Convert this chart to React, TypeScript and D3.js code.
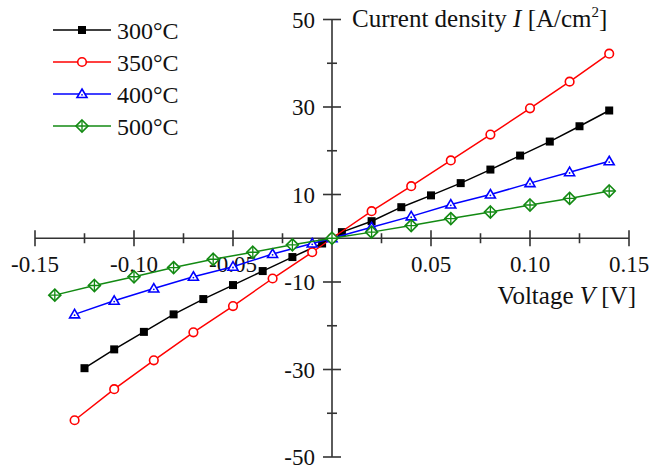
import React from "react";
import * as d3 from "d3";

// voltage (V) and current density (A/cm2)
const v300 = [-0.125, -0.11, -0.095, -0.08, -0.065, -0.05, -0.035, -0.02, -0.005, 0.005, 0.02, 0.035, 0.05, 0.065, 0.08, 0.095, 0.11, 0.125, 0.14];
const i300 = [-29.7, -25.4, -21.4, -17.4, -13.9, -10.7, -7.5, -4.3, -1.2, 1.4, 3.9, 7.1, 9.8, 12.6, 15.7, 18.9, 22.1, 25.6, 29.2];

const v350 = [-0.13, -0.11, -0.09, -0.07, -0.05, -0.03, -0.01, 0, 0.02, 0.04, 0.06, 0.08, 0.1, 0.12, 0.14];
const i350 = [-41.6, -34.5, -27.9, -21.5, -15.5, -9.2, -3.2, 0, 6.2, 11.9, 17.8, 23.7, 29.7, 35.8, 42.2];

const v400 = [-0.13, -0.11, -0.09, -0.07, -0.05, -0.03, -0.01, 0, 0.02, 0.04, 0.06, 0.08, 0.1, 0.12, 0.14];
const i400 = [-17.4, -14.3, -11.5, -8.8, -6.5, -3.6, -1.2, 0, 2.5, 5.0, 7.7, 10.0, 12.6, 15.1, 17.6];

const v500 = [-0.14, -0.12, -0.1, -0.08, -0.06, -0.04, -0.02, 0, 0.02, 0.04, 0.06, 0.08, 0.1, 0.12, 0.14];
const i500 = [-13.0, -10.8, -8.8, -6.7, -4.8, -3.2, -1.5, 0, 1.4, 2.9, 4.5, 6.0, 7.6, 9.1, 10.8];

const seriesNames = ["300°C", "350°C", "400°C", "500°C"];
const seriesColors = ["#000000", "#ff0000", "#0000ff", "#138a13"];
const seriesShapes = ["square", "circle", "triangle", "diamond"];

const xMajor = [-0.15, -0.1, -0.05, 0.05, 0.1, 0.15];
const xMinor = [-0.125, -0.075, -0.025, 0.025, 0.075, 0.125];
const xLabels = ["-0.15", "-0.10", "-0.05", "0.05", "0.10", "0.15"];
const yMajor = [50, 30, 10, -10, -30, -50];
const yMinor = [40, 20, -20, -40];

const W = 651;
const H = 472;
const FONT = "'Liberation Serif', 'Times New Roman', Times, serif";
const AXIS = "#333";

function Marker({ shape, x, y, color }) {
  if (shape === "square") {
    return <rect x={x - 4} y={y - 4} width={8} height={8} fill={color} />;
  }
  if (shape === "circle") {
    return <circle cx={x} cy={y} r={4.3} fill="#fff" stroke={color} strokeWidth={1.6} />;
  }
  if (shape === "triangle") {
    return (
      <g>
        <path d={`M${x},${y - 5}L${x + 5},${y + 3.5}L${x - 5},${y + 3.5}Z`} fill="#fff" stroke={color} strokeWidth={1.6} />
        <circle cx={x} cy={y + 0.8} r={0.9} fill={color} />
      </g>
    );
  }
  return (
    <g>
      <path d={`M${x},${y - 6}L${x + 6},${y}L${x},${y + 6}L${x - 6},${y}Z`} fill="#fff" stroke={color} strokeWidth={1.6} />
      <path d={`M${x - 6},${y}H${x + 6}M${x},${y - 6}V${y + 6}`} stroke={color} strokeWidth={1.3} />
    </g>
  );
}

export default function App() {
  const x = d3.scaleLinear().domain([-0.15, 0.15]).range([35, 629]);
  const y = d3.scaleLinear().domain([-50, 50]).range([457, 19.5]);

  const series = [
    [v300, i300],
    [v350, i350],
    [v400, i400],
    [v500, i500],
  ];

  const line = d3
    .line<[number, number]>()
    .x((d) => x(d[0]))
    .y((d) => y(d[1]));

  const x0 = x(0);
  const y0 = y(0);

  return (
    <svg
      width={W}
      height={H}
      style={{ position: "absolute", left: 0, top: 0, background: "#fff", fontFamily: FONT }}
    >
      {/* x axis */}
      <line x1={x(-0.15)} x2={x(0.15)} y1={y0} y2={y0} stroke={AXIS} strokeWidth={1.6} />
      {xMajor.map((t) => (
        <line key={"xM" + t} x1={x(t)} x2={x(t)} y1={y0 - 8} y2={y0 + 8} stroke={AXIS} strokeWidth={1.6} />
      ))}
      {xMinor.map((t) => (
        <line key={"xm" + t} x1={x(t)} x2={x(t)} y1={y0 - 5} y2={y0 + 5} stroke={AXIS} strokeWidth={1.6} />
      ))}
      {xMajor.map((t, i) => (
        <text key={"xl" + t} x={x(t)} y={272} textAnchor="middle" fontSize={23} fill="#111">
          {xLabels[i]}
        </text>
      ))}

      {/* y axis */}
      <line x1={x0} x2={x0} y1={y(50)} y2={y(-50)} stroke={AXIS} strokeWidth={1.6} />
      {yMajor.map((t) => (
        <line key={"yM" + t} x1={x0 - 9} x2={x0 + 9} y1={y(t)} y2={y(t)} stroke={AXIS} strokeWidth={1.6} />
      ))}
      {yMinor.map((t) => (
        <line key={"ym" + t} x1={x0 - 5} x2={x0 + 5} y1={y(t)} y2={y(t)} stroke={AXIS} strokeWidth={1.6} />
      ))}
      {yMajor.map((t) => (
        <text key={"yl" + t} x={315} y={y(t) + 8} textAnchor="end" fontSize={23} fill="#111">
          {String(t)}
        </text>
      ))}

      {/* axis titles */}
      <text x={352} y={27} fontSize={25} fill="#111">
        Current density <tspan fontStyle="italic">I</tspan> [A/cm
        <tspan fontSize={15} dy={-10}>2</tspan>
        <tspan dy={10}>]</tspan>
      </text>
      <text x={636} y={304} fontSize={25} fill="#111" textAnchor="end">
        Voltage <tspan fontStyle="italic">V</tspan> [V]
      </text>

      {/* series */}
      {series.map(([vs, is], k) => {
        const pts = vs.map((v, i) => [v, is[i]] as [number, number]);
        return (
          <g key={"s" + k}>
            <path d={line(pts) || ""} fill="none" stroke={seriesColors[k]} strokeWidth={1.5} />
            {pts.map((p, i) => (
              <Marker key={i} shape={seriesShapes[k]} x={x(p[0])} y={y(p[1])} color={seriesColors[k]} />
            ))}
          </g>
        );
      })}

      {/* legend */}
      {seriesNames.map((name, k) => {
        const ly = 30 + k * 32;
        return (
          <g key={"lg" + k}>
            <line x1={53} x2={111} y1={ly} y2={ly} stroke={seriesColors[k]} strokeWidth={1.5} />
            <Marker shape={seriesShapes[k]} x={82} y={ly} color={seriesColors[k]} />
            <text x={117} y={ly + 9} fontSize={24} fill="#111">
              {name}
            </text>
          </g>
        );
      })}
    </svg>
  );
}
